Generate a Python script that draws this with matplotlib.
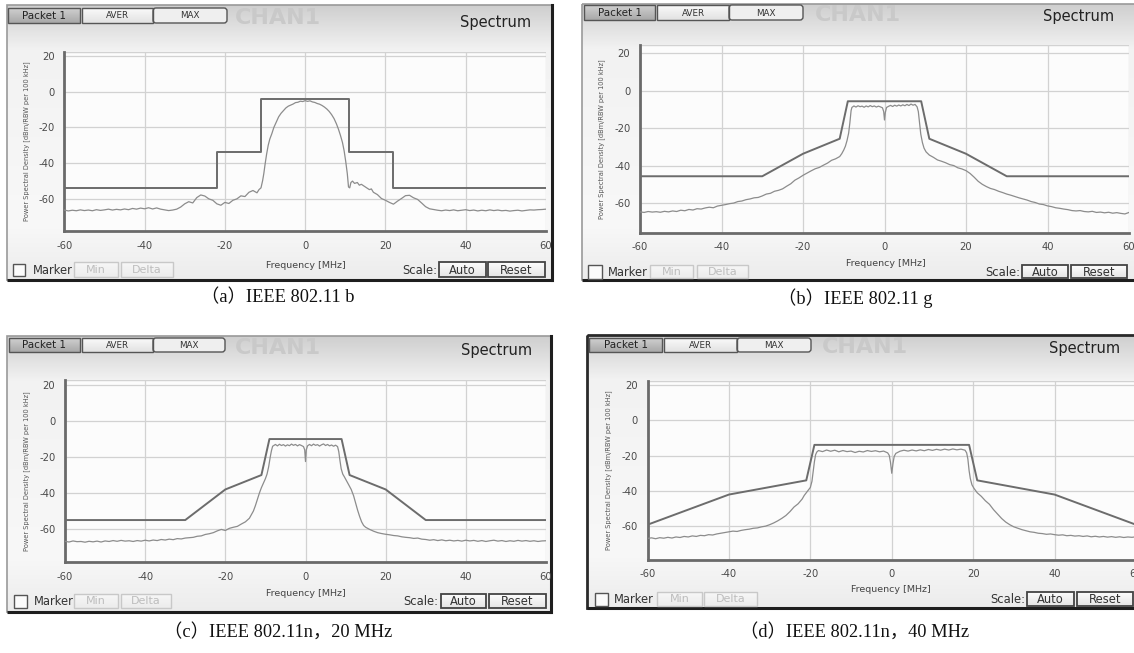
import numpy as np
import matplotlib
matplotlib.use("Agg")
import matplotlib.pyplot as plt
from matplotlib.patches import Rectangle, FancyBboxPatch
from matplotlib.colors import to_rgb

plt.rcParams['font.family'] = ['DejaVu Sans']
plt.rcParams['axes.unicode_minus'] = False

# ---------------- data ----------------
freq_ticks = [-60, -40, -20, 0, 20, 40, 60]
psd_ticks = [20, 0, -20, -40, -60]
captions = ["（a）IEEE 802.11 b", "（b）IEEE 802.11 g",
            "（c）IEEE 802.11n，20 MHz", "（d）IEEE 802.11n，40 MHz"]

# spectral masks
mask_a_x = [-60, -22, -22, -11, -11, 11, 11, 22, 22, 60]
mask_a_y = [-54, -54, -34, -34, -4, -4, -34, -34, -54, -54]
mask_b_x = [-60, -30, -20, -11, -9, 9, 11, 20, 30, 60]
mask_b_y = [-45.5, -45.5, -33.5, -25.5, -5.5, -5.5, -25.5, -33.5, -45.5, -45.5]
mask_c_x = [-60, -30, -20, -11, -9, 9, 11, 20, 30, 60]
mask_c_y = [-55, -55, -38, -30, -10, -10, -30, -38, -55, -55]
mask_d_x = [-60, -40, -21, -19, 19, 21, 40, 60]
mask_d_y = [-59, -42, -34, -14, -14, -34, -42, -59]

spec_a_x = [-60, -59, -58, -57, -56, -55, -54, -53, -52, -51, -50, -49, -48, -47, -46, -45, -44, -43, -42, -41,
            -40, -39, -38, -37, -36, -35, -34, -33, -32, -31, -30, -29, -28, -27, -26, -25, -24, -23, -22, -21,
            -20, -19, -18, -17, -16, -15, -14, -13, -12, -11.5, -11, -10.6, -10.3, -10, -9.6, -9.2, -8.8, -8.3,
            -7.8, -7.2, -6.6, -6, -5.4, -4.8, -4.2, -3.6, -3, -2.4, -1.8, -1.2, -0.6, 0, 0.6, 1.2, 1.8, 2.4, 3,
            3.6, 4.2, 4.8, 5.4, 6, 6.6, 7.2, 7.8, 8.3, 8.8, 9.3, 9.7, 10.1, 10.5, 10.8, 11.1, 11.4, 11.8, 12.3,
            13, 13.5, 14, 15, 16, 16.5, 17, 18, 19, 20, 21, 22, 23, 24, 25, 26, 27, 28, 29, 30, 31, 32, 33,
            34, 35, 36, 37, 38, 39, 40, 41, 42, 43, 44, 45, 46, 47, 48, 49, 50, 51, 52, 53, 54, 55, 56, 57,
            58, 59, 60]
spec_a_y = [-66.5, -67.0, -66.6, -66.9, -66.4, -66.8, -66.5, -66.9, -66.3, -66.7, -66.4, -66.0, -66.5, -66.1,
            -66.4, -65.9, -66.3, -65.6, -66.0, -65.4, -65.8, -65.2, -65.9, -65.3, -66.0, -66.4, -66.8, -66.5,
            -66.0, -64.8, -63.0, -61.8, -62.5, -59.5, -58.0, -58.6, -60.2, -61.0, -63.0, -63.8, -62.2, -62.8,
            -61.0, -60.2, -58.5, -58.9, -56.5, -55.5, -56.8, -55.0, -54.0, -50.0, -46.0, -41.0, -35.0, -30.0,
            -26.5, -23.5, -20.0, -17.0, -14.0, -12.0, -10.5, -9.0, -8.0, -7.4, -6.8, -6.0, -5.8, -5.2, -5.4,
            -4.9, -5.3, -5.0, -5.6, -5.9, -6.5, -6.9, -7.6, -8.5, -9.6, -11.0, -12.8, -15.0, -18.0, -21.0,
            -24.5, -28.5, -33.0, -39.0, -46.0, -53.5, -54.0, -51.0, -50.2, -51.5, -51.0, -52.5, -52.0, -53.5,
            -55.0, -54.6, -56.5, -57.8, -60.0, -61.0, -62.2, -63.2, -61.5, -60.0, -58.4, -58.2, -59.6, -60.5,
            -62.5, -64.6, -65.8, -66.2, -66.6, -66.9, -66.5, -66.8, -66.4, -66.9, -66.6, -66.3, -66.8, -66.5,
            -67.0, -66.6, -66.9, -66.4, -66.8, -66.5, -66.9, -66.7, -67.1, -66.8, -66.6, -67.0, -66.7, -66.4,
            -66.5, -66.3, -66.2, -66.0]

spec_b_x = [-60, -59, -58, -57, -56, -55, -54, -53, -52, -51, -50, -49, -48, -47, -46, -45, -44, -43, -42, -41,
            -40, -39, -38, -37, -36, -35, -34, -33, -32, -31, -30, -29, -28, -27, -26, -25, -24, -23, -22, -21,
            -20, -19, -18, -17, -16, -15, -14, -13, -12, -11, -10.5, -10, -9.6, -9.2, -8.8, -8.5, -8.2, -8,
            -7.5, -7, -6.5, -6, -5.5, -5, -4.5, -4, -3.5, -3, -2.5, -2, -1.5, -1, -0.5, -0.2, 0, 0.2, 0.5, 1,
            1.5, 2, 2.5, 3, 3.5, 4, 4.5, 5, 5.5, 6, 6.5, 7, 7.5, 8, 8.3, 8.6, 8.9, 9.3, 9.7, 10.2, 11, 12, 13,
            14, 15, 16, 17, 18, 19, 20, 21, 22, 23, 24, 25, 26, 27, 28, 29, 30, 31, 32, 33, 34, 35, 36, 37,
            38, 39, 40, 41, 42, 43, 44, 45, 46, 47, 48, 49, 50, 51, 52, 53, 54, 55, 56, 57, 58, 59, 60]
spec_b_y = [-64.5, -64.8, -64.3, -64.6, -64.4, -64.7, -64.2, -64.5, -64.0, -64.3, -63.6, -63.9, -63.2, -63.5,
            -62.8, -63.0, -62.4, -62.0, -62.3, -61.4, -61.0, -60.6, -60.1, -59.8, -59.0, -58.7, -58.0, -57.6,
            -57.0, -56.8, -56.0, -55.0, -54.6, -53.5, -53.0, -52.2, -50.8, -49.5, -47.6, -46.4, -45.0, -43.8,
            -42.6, -41.5, -40.8, -39.6, -38.5, -37.0, -36.2, -35.0, -33.5, -31.5, -29.5, -26.5, -22.5, -17.0,
            -10.5, -8.8, -8.0, -8.6, -7.9, -8.4, -8.1, -8.7, -8.0, -8.5, -7.8, -8.4, -8.0, -8.6, -8.1, -8.5,
            -9.0, -11.0, -15.5, -11.5, -8.8, -8.2, -7.7, -8.3, -7.6, -8.1, -7.5, -8.0, -7.4, -7.9, -7.2, -7.8,
            -7.0, -7.6, -7.2, -8.5, -11.0, -17.0, -23.0, -27.5, -30.5, -32.5, -34.2, -35.4, -36.8, -37.5,
            -38.3, -39.3, -39.8, -41.0, -41.6, -42.5, -44.0, -46.0, -48.2, -49.8, -51.0, -52.0, -52.6, -53.5,
            -54.2, -55.0, -55.6, -56.3, -57.0, -57.6, -58.2, -59.0, -59.5, -60.3, -60.6, -61.3, -61.7, -62.3,
            -62.6, -63.0, -63.3, -63.8, -64.0, -63.8, -64.3, -64.5, -64.2, -64.8, -64.6, -65.0, -64.7, -65.2,
            -64.9, -65.3, -65.6, -64.8]

spec_c_x = [-60, -59, -58, -57, -56, -55, -54, -53, -52, -51, -50, -49, -48, -47, -46, -45, -44, -43, -42, -41,
            -40, -39, -38, -37, -36, -35, -34, -33, -32, -31, -30, -29, -28, -27, -26, -25, -24, -23, -22, -21,
            -20, -19, -18, -17, -16, -15, -14, -13.5, -13, -12.5, -12, -11.5, -11, -10.5, -10, -9.6, -9.2,
            -8.8, -8.5, -8.2, -7.5, -7, -6.5, -6, -5.5, -5, -4.5, -4, -3.5, -3, -2.5, -2, -1.5, -1, -0.5,
            -0.2, 0, 0.2, 0.5, 1, 1.5, 2, 2.5, 3, 3.5, 4, 4.5, 5, 5.5, 6, 6.5, 7, 7.5, 8, 8.3, 8.6, 8.9, 9.3,
            9.7, 10.2, 10.8, 11.4, 12, 12.5, 13, 13.5, 14, 14.5, 15, 16, 17, 18, 19, 20, 21, 22, 23, 24, 25,
            26, 27, 28, 29, 30, 31, 32, 33, 34, 35, 36, 37, 38, 39, 40, 41, 42, 43, 44, 45, 46, 47, 48, 49,
            50, 51, 52, 53, 54, 55, 56, 57, 58, 59, 60]
spec_c_y = [-66.8, -67.2, -66.6, -67.0, -66.9, -67.3, -66.8, -67.1, -66.7, -67.2, -66.6, -66.9, -66.4, -66.8,
            -66.3, -66.7, -66.5, -66.9, -66.4, -66.7, -66.2, -66.6, -66.1, -66.4, -65.8, -66.1, -65.6, -65.9,
            -65.3, -65.5, -65.0, -64.8, -64.6, -64.0, -63.8, -63.0, -62.6, -62.0, -61.0, -60.2, -60.8, -59.6,
            -59.0, -58.5, -57.2, -56.0, -54.0, -52.0, -50.0, -47.0, -43.5, -40.0, -37.0, -34.5, -32.0, -29.5,
            -25.5, -20.0, -16.5, -14.0, -13.0, -13.8, -12.9, -13.6, -13.1, -13.9, -13.2, -13.7, -12.8, -13.5,
            -13.0, -13.8, -13.1, -13.6, -14.2, -16.0, -22.5, -16.0, -13.8, -13.0, -13.7, -12.8, -13.5, -13.1,
            -13.9, -13.2, -12.7, -13.6, -13.0, -13.8, -13.3, -14.0, -13.4, -14.2, -17.0, -22.0, -26.5, -29.5,
            -31.0, -33.0, -35.5, -38.0, -41.5, -45.5, -49.5, -53.0, -56.0, -58.0, -59.0, -60.2, -61.2, -62.0,
            -62.5, -62.9, -63.2, -63.6, -63.8, -64.3, -64.6, -64.8, -65.2, -65.0, -65.6, -65.8, -66.2, -65.9,
            -66.4, -66.0, -66.5, -66.2, -66.6, -66.3, -66.7, -66.2, -66.6, -66.3, -66.8, -66.4, -66.9, -66.5,
            -66.2, -66.7, -66.4, -66.9, -66.5, -66.8, -66.3, -66.7, -66.4, -66.8, -66.5, -66.9, -66.6, -66.5]

spec_d_x = [-60, -59, -58, -57, -56, -55, -54, -53, -52, -51, -50, -49, -48, -47, -46, -45, -44, -43, -42, -41,
            -40, -39, -38, -37, -36, -35, -34, -33, -32, -31, -30, -29, -28, -27, -26, -25, -24, -23, -22,
            -21.5, -21, -20.5, -20, -19.6, -19.3, -19, -18.7, -18.4, -18, -17, -16, -15, -14, -13, -12, -11,
            -10, -9, -8, -7, -6, -5, -4, -3, -2, -1, -0.6, -0.3, 0, 0.3, 0.6, 1, 2, 3, 4, 5, 6, 7, 8, 9, 10,
            11, 12, 13, 14, 15, 16, 17, 18, 18.4, 18.7, 19, 19.3, 19.7, 20.2, 21, 22, 23, 24, 25, 26, 27, 28,
            29, 30, 31, 32, 33, 34, 35, 36, 37, 38, 39, 40, 41, 42, 43, 44, 45, 46, 47, 48, 49, 50, 51, 52,
            53, 54, 55, 56, 57, 58, 59, 60]
spec_d_y = [-66.7, -66.4, -66.9, -66.3, -66.6, -66.1, -66.5, -65.9, -66.2, -65.6, -65.9, -65.3, -65.6, -65.0,
            -65.2, -64.6, -64.8, -64.2, -63.8, -63.4, -63.0, -62.6, -62.8, -62.2, -61.8, -61.5, -61.0, -60.8,
            -60.2, -59.8, -59.0, -58.0, -56.8, -55.4, -53.8, -51.6, -49.0, -47.2, -44.5, -42.5, -41.0, -39.5,
            -38.0, -34.5, -29.0, -23.5, -19.5, -18.0, -17.2, -17.8, -16.9, -17.6, -17.0, -17.9, -17.2, -17.8,
            -17.5, -18.3, -17.6, -18.0, -17.2, -17.7, -17.3, -17.9, -17.5, -18.5, -20.0, -24.0, -30.0, -24.5,
            -20.5, -18.8, -17.6, -17.0, -17.5, -16.9, -17.4, -16.8, -17.3, -16.6, -17.1, -16.5, -17.0, -16.4,
            -16.9, -16.3, -16.8, -16.4, -17.0, -18.5, -22.0, -28.5, -33.0, -36.5, -38.5, -41.0, -43.0, -45.5,
            -47.5, -50.5, -53.0, -55.5, -57.5, -59.0, -60.2, -61.0, -61.8, -62.4, -63.0, -63.3, -63.8, -64.0,
            -64.4, -64.2, -64.6, -64.9, -64.7, -65.2, -65.0, -65.4, -65.2, -65.6, -65.3, -65.8, -65.5, -65.9,
            -65.6, -66.0, -65.7, -66.1, -65.8, -66.2, -65.9, -66.1, -65.8]

series = [(mask_a_x, mask_a_y, spec_a_x, spec_a_y),
          (mask_b_x, mask_b_y, spec_b_x, spec_b_y),
          (mask_c_x, mask_c_y, spec_c_x, spec_c_y),
          (mask_d_x, mask_d_y, spec_d_x, spec_d_y)]

# ---------------- layout (pixels) ----------------
W, H = 1134, 653
layouts = [
    dict(frame=(7, 5, 553, 280), tabs_y=(8, 23), tabs=[(8, 80), (82, 153), (153, 227)], chan=(278, 18),
         spec=(496, 22), ax=(64.3, 52, 546, 231), ylim=(-78.3, 22.5), ylab_x=27, row_y=(262, 277),
         chk=(13, 25), marker_x=33, minb=(74, 118), delta=(121, 173), scale_x=437, auto=(439, 486),
         reset=(488, 545), freq=(306, 265), caption=(278, 298), dark=False),
    dict(frame=(582, 4, 1140, 280), tabs_y=(5, 20), tabs=[(584, 655), (657, 729), (729, 803)], chan=(858, 15),
         spec=(1079, 17), ax=(640, 45, 1129, 232.7), ylim=(-75.6, 24.5), ylab_x=602, row_y=(265, 278),
         chk=(588, 602), marker_x=608, minb=(650, 693), delta=(697, 748), scale_x=1020, auto=(1022, 1068),
         reset=(1071, 1127), freq=(886, 264), caption=(855, 298), dark=False),
    dict(frame=(7, 336, 552, 612), tabs_y=(338, 352), tabs=[(9, 80), (82, 153), (153, 225)], chan=(278, 348),
         spec=(497, 350), ax=(65, 380, 546, 562), ylim=(-78.3, 22.8), ylab_x=27, row_y=(594, 608),
         chk=(14, 27), marker_x=34, minb=(74, 118), delta=(121, 171), scale_x=438, auto=(441, 486),
         reset=(489, 546), freq=(306, 593), caption=(278, 632), dark=False),
    dict(frame=(587, 335, 1140, 608), tabs_y=(338, 352), tabs=[(589, 662), (664, 737), (737, 811)],
         chan=(865, 347), spec=(1085, 349), ax=(647.5, 381, 1136, 559.5), ylim=(-78.6, 22), ylab_x=609,
         row_y=(592, 606), chk=(595, 608), marker_x=614, minb=(657, 702), delta=(704, 757), scale_x=1025,
         auto=(1027, 1074), reset=(1077, 1133), freq=(891, 590), caption=(855, 632), dark=True),
]

fig = plt.figure(figsize=(W / 100, H / 100), dpi=100)
fig.patch.set_facecolor('white')
bg = fig.add_axes([0, 0, 1, 1])
bg.axis('off')


def gradient(x0, y0, x1, y1, stops, z=1):
    t = np.linspace(0, 1, 200)
    fr = [s[0] for s in stops]
    cols = np.array([to_rgb(s[1]) for s in stops])
    arr = np.stack([np.interp(t, fr, cols[:, i]) for i in range(3)], axis=-1)[:, None, :]
    bg.imshow(arr, extent=[x0, x1, y1, y0], origin='upper', aspect='auto', zorder=z,
              interpolation='bilinear')


def button(x0, y0, x1, y1, label, stops, ec, tc, fs, lw=1.0, z=3):
    gradient(x0, y0, x1, y1, stops, z=z)
    bg.add_patch(Rectangle((x0, y0), x1 - x0, y1 - y0, fill=False, ec=ec, lw=lw, zorder=z + 0.1))
    bg.text((x0 + x1) / 2, (y0 + y1) / 2 + 0.5, label, ha='center', va='center', fontsize=fs,
            color=tc, zorder=z + 0.2)


ylab = "Power Spectral Density [dBm/RBW per 100 kHz]"

for L, (mx, my, sx, sy), cap in zip(layouts, series, captions):
    fx0, fy0, fx1, fy1 = L['frame']
    # window background
    gradient(fx0, fy0, fx1, fy1, [(0, '#cfcfcf'), (0.06, '#dcdcdc'), (0.16, '#f2f2f2'),
                                  (0.8, '#f8f8f8'), (1, '#ececec')], z=1)
    edge = '#2a2a2a' if L['dark'] else '#9a9a9a'
    bg.add_patch(Rectangle((fx0, fy0), fx1 - fx0, fy1 - fy0, fill=False, ec=edge,
                           lw=2.0 if L['dark'] else 1.2, zorder=2))
    bg.plot([fx0, fx1], [fy1, fy1], color='#1e1e1e', lw=2.2, zorder=2.1, solid_capstyle='butt')
    bg.plot([fx1 - 1, fx1 - 1], [fy0, fy1], color='#1e1e1e', lw=2.2, zorder=2.1)
    # tabs
    ty0, ty1 = L['tabs_y']
    (p0, p1), (a0, a1), (m0, m1) = L['tabs']
    button(p0, ty0, p1, ty1, 'Packet 1', [(0, '#d0d0d0'), (1, '#a8a8a8')], '#555555', '#222222', 7.5)
    button(a0, ty0, a1, ty1, 'AVER', [(0, '#fafafa'), (1, '#e2e2e2')], '#555555', '#333333', 6.3)
    bg.add_patch(FancyBboxPatch((m0, ty0), m1 - m0, ty1 - ty0,
                                boxstyle='round,pad=0,rounding_size=3', fc='#efefef', ec='#555555',
                                lw=1.0, zorder=3))
    bg.text((m0 + m1) / 2, (ty0 + ty1) / 2 + 0.5, 'MAX', ha='center', va='center', fontsize=6.3,
            color='#333333', zorder=3.2)
    bg.text(L['chan'][0], L['chan'][1], 'CHAN1', ha='center', va='center', fontsize=16,
            fontweight='bold', color='#c9c9c9', zorder=2.5)
    bg.text(L['spec'][0], L['spec'][1], 'Spectrum', ha='center', va='center', fontsize=10.5,
            color='#222222', zorder=2.5)
    # y label
    ax0, ay0, ax1, ay1 = L['ax']
    bg.text(L['ylab_x'], (ay0 + ay1) / 2, ylab, rotation=90, ha='center', va='center', fontsize=4.8,
            color='#555555', zorder=2.5)
    bg.text(L['freq'][0], L['freq'][1], 'Frequency [MHz]', ha='center', va='center', fontsize=6.8,
            color='#444444', zorder=2.5)
    # bottom row
    ry0, ry1 = L['row_y']
    c0, c1 = L['chk']
    cy = (ry0 + ry1) / 2
    bg.add_patch(Rectangle((c0, cy - (c1 - c0) / 2), c1 - c0, c1 - c0, fc='#fbfbfb', ec='#555555',
                           lw=1.0, zorder=3))
    bg.text(L['marker_x'], cy + 0.5, 'Marker', ha='left', va='center', fontsize=8.3, color='#333333',
            zorder=3)
    button(L['minb'][0], ry0, L['minb'][1], ry1, 'Min', [(0, '#f7f7f7'), (1, '#ececec')], '#c8c8c8',
           '#bdbdbd', 8)
    button(L['delta'][0], ry0, L['delta'][1], ry1, 'Delta', [(0, '#f7f7f7'), (1, '#ececec')], '#c8c8c8',
           '#bdbdbd', 8)
    bg.text(L['scale_x'], cy + 0.5, 'Scale:', ha='right', va='center', fontsize=8.3, color='#333333',
            zorder=3)
    button(L['auto'][0], ry0, L['auto'][1], ry1, 'Auto', [(0, '#fdfdfd'), (1, '#e4e4e4')], '#444444',
           '#333333', 8.3, lw=1.3)
    button(L['reset'][0], ry0, L['reset'][1], ry1, 'Reset', [(0, '#fdfdfd'), (1, '#e4e4e4')], '#444444',
           '#333333', 8.3, lw=1.3)
    # caption
    bg.text(L['caption'][0], L['caption'][1], cap, ha='center', va='center', fontsize=13.2,
            family=['Liberation Serif', 'Noto Sans CJK SC'], color='#111111')

    # plot axes
    ax = fig.add_axes([ax0 / W, 1 - ay1 / H, (ax1 - ax0) / W, (ay1 - ay0) / H])
    ax.set_facecolor('#fcfcfc')
    ax.set_xlim(-60, 60)
    ax.set_ylim(*L['ylim'])
    ax.set_xticks(freq_ticks)
    ax.set_yticks(psd_ticks)
    ax.grid(True, color='#d2d2d2', lw=0.9)
    ax.set_axisbelow(True)
    for s in ['top', 'right']:
        ax.spines[s].set_visible(False)
    for s in ['left', 'bottom']:
        ax.spines[s].set_color('#6a6a6a')
        ax.spines[s].set_linewidth(2.0)
    ax.axhline(L['ylim'][1], color='#d2d2d2', lw=1.0)
    ax.tick_params(length=0, labelsize=7.2, labelcolor='#4a4a4a', pad=7)
    ax.plot(sx, sy, color='#8c8c8c', lw=0.9, zorder=3)
    ax.plot(mx, my, color='#6c6c6c', lw=1.4, zorder=4)

bg.set_xlim(0, W)
bg.set_ylim(H, 0)
fig.savefig('out.png', dpi=100)
